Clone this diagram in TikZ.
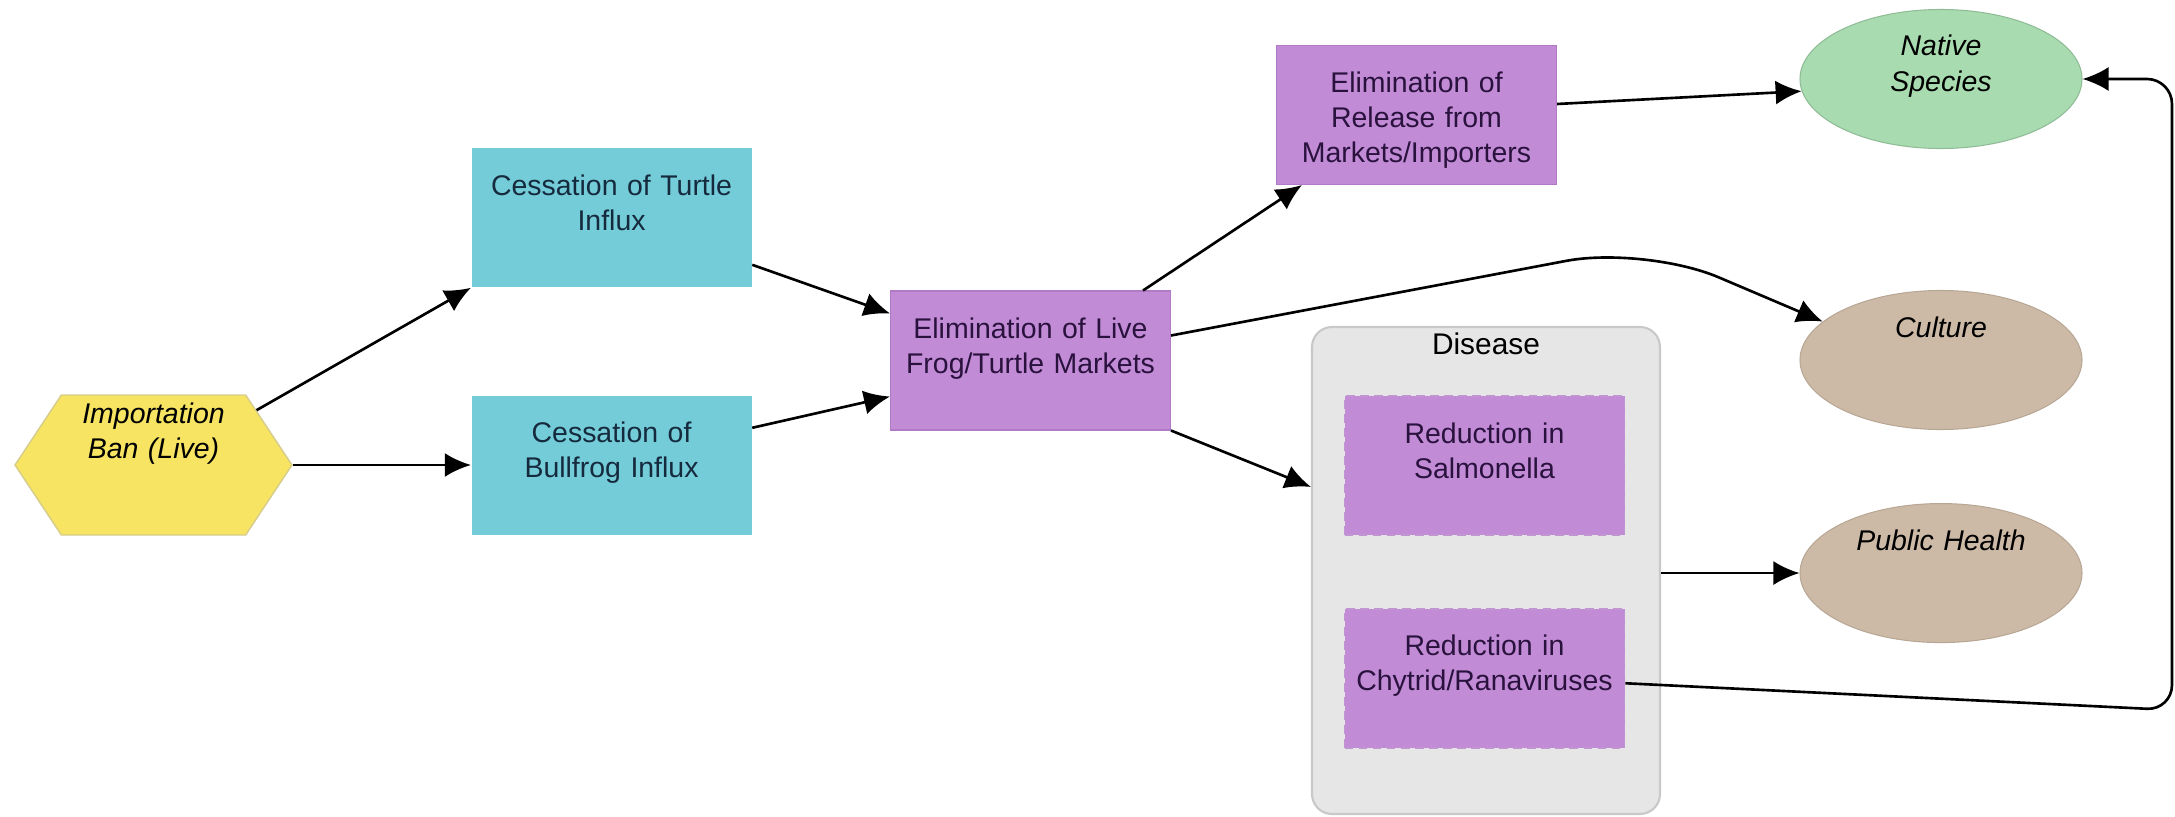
\documentclass[tikz,border=0pt]{standalone}
\usepackage{fontspec}
\setmainfont{Liberation Sans}
\usepackage{tikz}
\usetikzlibrary{arrows.meta,positioning,shapes.geometric,shapes.symbols}

\definecolor{banyellow}{RGB}{246,228,98}
\definecolor{banedge}{RGB}{214,204,140}
\definecolor{influxcyan}{RGB}{115,204,216}
\definecolor{marketpurple}{RGB}{194,139,214}
\definecolor{marketedge}{RGB}{176,122,198}
\definecolor{nativegreen}{RGB}{168,220,176}
\definecolor{valuetan}{RGB}{204,186,166}
\definecolor{groupgray}{RGB}{230,230,230}
\definecolor{groupedge}{RGB}{200,200,200}
\definecolor{navytext}{RGB}{22,42,62}
\definecolor{plumtext}{RGB}{42,18,62}

\begin{document}
\begin{tikzpicture}[
  >={Latex[length=2.6mm,width=2.4mm]},
  every node/.style={font=\fontsize{8.1}{9.96}\selectfont},
  box/.style={
    rectangle,
    minimum width=2.79cm,
    minimum height=1.39cm,
    text width=2.6cm,
    align=center,
    inner xsep=0.1cm,
    inner ysep=0.2cm,
    text height=0.27cm,
    text depth=0.72cm
  },
  inflow/.style={box, fill=influxcyan, text=navytext},
  action/.style={box, fill=marketpurple, draw=marketedge, line width=0.3pt, text=plumtext},
  subaction/.style={action, draw=marketedge!80!white, line width=0.5pt,
    dash pattern=on 2.5pt off 1.5pt},
  outcome/.style={
    ellipse,
    minimum width=2.82cm,
    minimum height=1.39cm,
    text width=1.9cm,
    align=center,
    inner sep=0pt,
    text height=0.22cm,
    text depth=0.68cm,
    font=\fontsize{8.1}{9.96}\selectfont\itshape
  },
  link/.style={->, line width=0.75pt, black}
]
  \useasboundingbox (0,0) rectangle (21.75,-8.17);

  \node[
    signal,
    signal to=west and east,
    signal pointer angle=113,
    fill=banyellow,
    draw=banedge,
    line width=0.4pt,
    minimum width=2.77cm,
    minimum height=1.40cm,
    text width=1.75cm,
    align=center,
    inner xsep=0cm,
    inner ysep=0.05cm,
    text height=0.23cm,
    text depth=1.07cm,
    font=\fontsize{8.1}{9.96}\selectfont\itshape
  ] (ban) at (1.535,-4.65) {Importation\\Ban (Live)};

  \node[inflow, right=1.78cm of ban] (bullfrog) {Cessation of\\Bullfrog Influx};
  \node[inflow, above=1.07cm of bullfrog] (turtle) {Cessation of Turtle\\Influx};

  \node[action] (markets) at (10.305,-3.605) {Elimination of Live\\Frog/Turtle Markets};
  \node[action] (release) at (14.165,-1.15) {Elimination of\\Release from\\Markets/Importers};

  % disease group with its two reductions
  \node[
    rectangle,
    rounded corners=0.2cm,
    fill=groupgray,
    draw=groupedge,
    line width=0.6pt,
    minimum width=3.48cm,
    minimum height=4.87cm,
    text width=3.2cm,
    align=center,
    inner ysep=0.1cm,
    text height=0.17cm,
    text depth=4.50cm,
    font=\fontsize{8.5}{10}\selectfont
  ] (disease) at (14.86,-5.705) {Disease};
  \node[subaction] (salmonella) at (14.845,-4.655) {Reduction in\\Salmonella};
  \node[subaction, below=0.72cm of salmonella] (chytrid) {Reduction in\\Chytrid/Ranaviruses};

  \node[outcome, fill=nativegreen, draw=nativegreen!85!black, line width=0.3pt] (native) at (19.41,-0.79) {Native\\Species};
  \node[outcome, fill=valuetan, draw=valuetan!90!black, line width=0.3pt] (culture) at (19.41,-3.60) {Culture};
  \node[outcome, fill=valuetan, draw=valuetan!90!black, line width=0.3pt, below=0.73cm of culture] (health) {Public Health};

  \draw[link] (ban.28) -- (turtle.south west);
  \draw[link] (ban.east) -- (bullfrog.west);
  \draw[link] ([yshift=0.23cm]turtle.south east) -- ([yshift=-0.23cm]markets.north west);
  \draw[link] ([yshift=-0.33cm]bullfrog.north east) -- ([yshift=0.34cm]markets.south west);
  \draw[link] ([xshift=-0.28cm]markets.north east) -- ([xshift=0.26cm]release.south west);
  \draw[link] ([yshift=0.11cm]release.east) -- (native.185);

  \coordinate (crest) at (16.45,-2.46);
  \draw[link, rounded corners=0.8cm] ([yshift=0.25cm]markets.east) -- (crest) -- (culture.162);
  \draw[link] (markets.south east) -- ([yshift=-1.61cm]disease.north west);
  \draw[link] (disease.east |- health.west) -- (health.west);

  \coordinate (loopend) at (21.72,-7.10);
  \draw[link, rounded corners=0.25cm] ([yshift=-0.05cm]chytrid.east) -- (loopend) -- (loopend |- native.east) -- (native.east);
\end{tikzpicture}
\end{document}
